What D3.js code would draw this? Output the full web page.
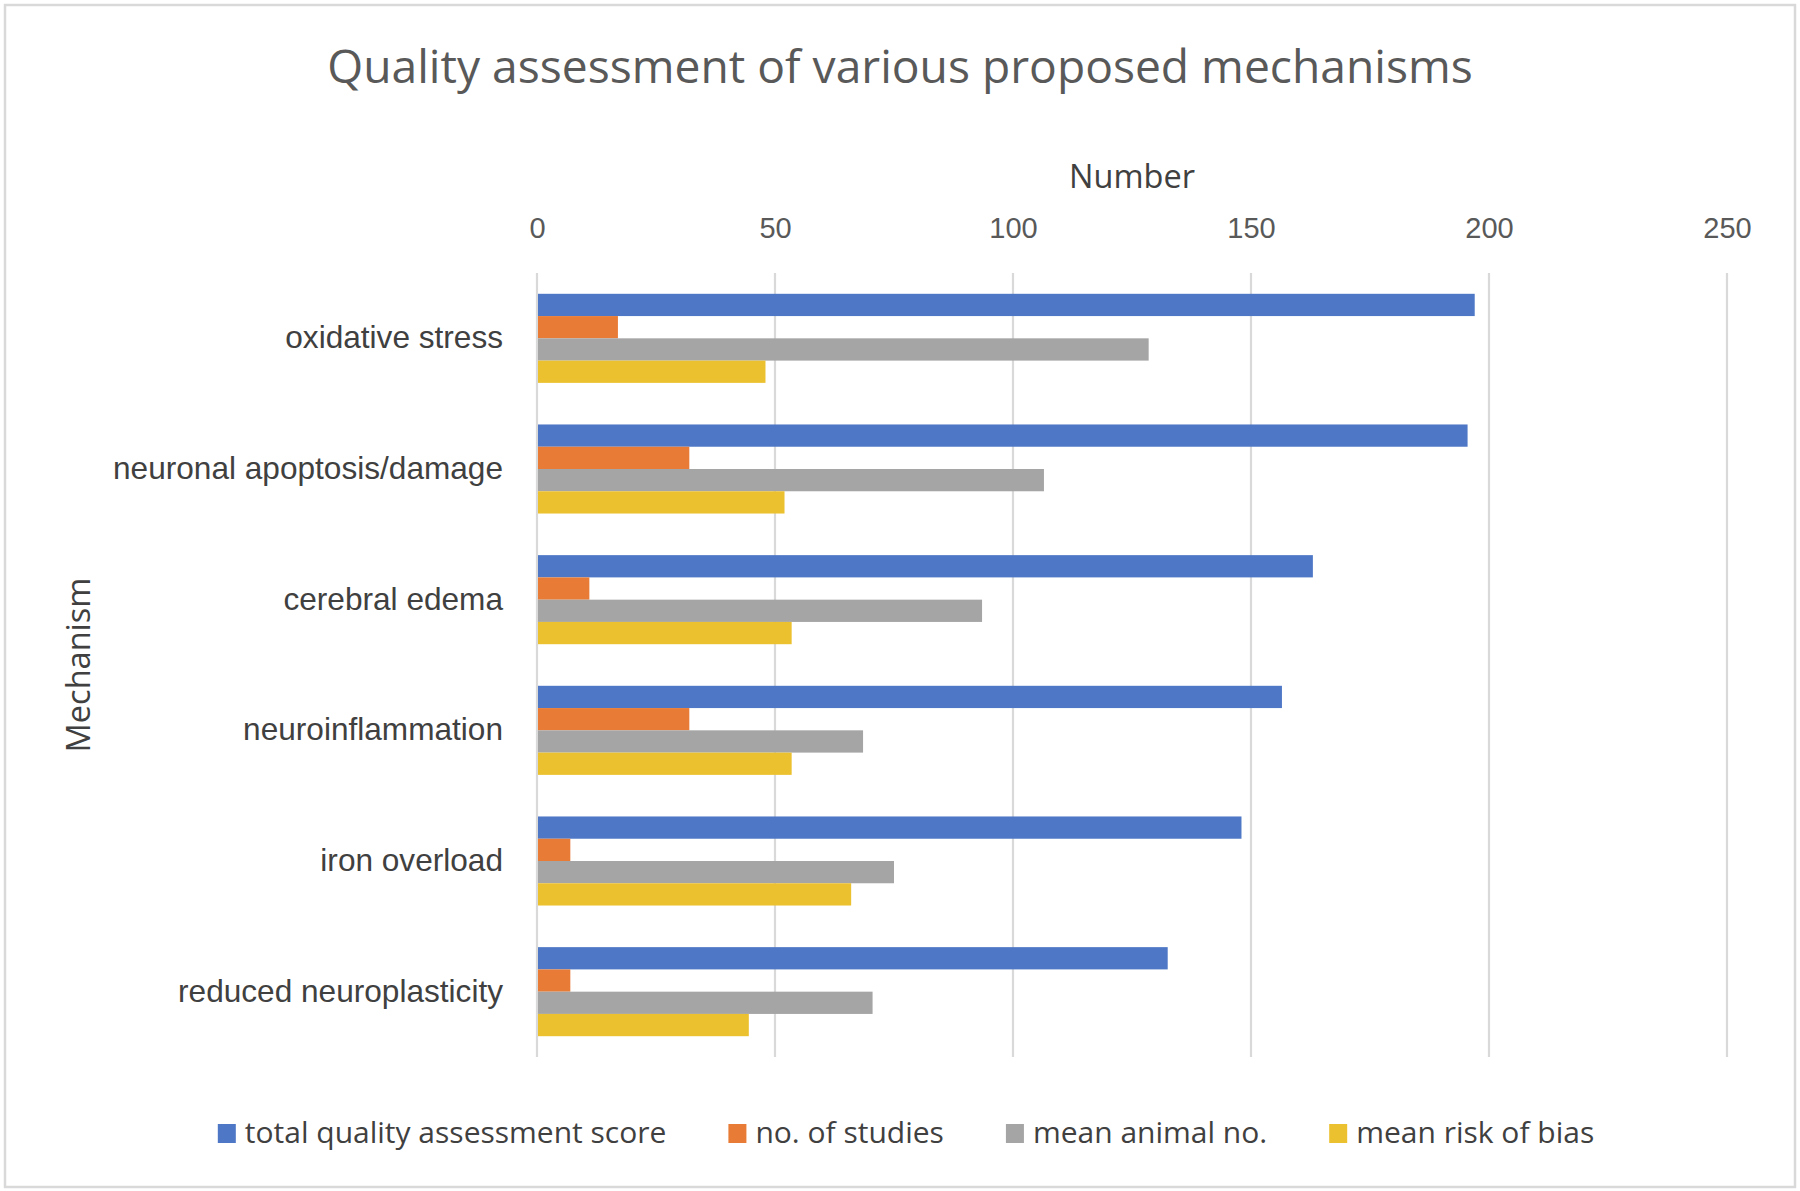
<!DOCTYPE html>
<head>
  <meta charset="utf-8">
  <title>Quality assessment of various proposed mechanisms</title>
  <script src="https://d3js.org/d3.v7.min.js"></script>
  <style>
    body { margin: 0; background: #fff; }
    svg { display: block; font-family: "Open Sans", "Noto Sans", sans-serif; }
  </style>
</head>
<body>
  <div id="chart"></div>

  <script type="text/javascript">

    // Data
    var mechanisms = ['oxidative stress', 'neuronal apoptosis/damage', 'cerebral edema',
      'neuroinflammation', 'iron overload', 'reduced neuroplasticity'];
    var seriesNames = ['total quality assessment score', 'no. of studies',
      'mean animal no.', 'mean risk of bias'];
    var totalScore = [197, 195.5, 163, 156.5, 148, 132.5];
    var noOfStudies = [17, 32, 11, 32, 7, 7];
    var meanAnimalNo = [128.5, 106.5, 93.5, 68.5, 75, 70.5];
    var meanRiskOfBias = [48, 52, 53.5, 53.5, 66, 44.5];
    var xTicks = [0, 50, 100, 150, 200, 250];

    var colors = ['#4e78c6', '#e87b35', '#a5a5a5', '#ecc12f'];
    var seriesValues = [totalScore, noOfStudies, meanAnimalNo, meanRiskOfBias];

    // table for the bars: one row per mechanism and series
    var rows = [];
    mechanisms.forEach(function (m, i) {
      seriesNames.forEach(function (s, j) {
        rows.push({ mechanism: m, series: s, value: seriesValues[j][i], color: colors[j] });
      });
    });

    var width = 1800;
    var height = 1191;
    var plot = { left: 537, right: 1727, top: 273, bottom: 1057 };

    var svg = d3.select('#chart')
      .append('svg')
        .attr('width', width)
        .attr('height', height);

    svg.append('rect')
      .attr('width', width)
      .attr('height', height)
      .attr('fill', '#fff');

    // outer frame of the chart
    svg.append('rect')
      .attr('x', 5)
      .attr('y', 5)
      .attr('width', 1790)
      .attr('height', 1182)
      .attr('fill', 'none')
      .attr('stroke', '#d9d9d9')
      .attr('stroke-width', 2.5);

    var xScale = d3.scaleLinear()
      .domain([0, 250])
      .range([plot.left, plot.right]);

    // one band per mechanism, bars sit in the middle of each band
    var yScale = d3.scaleBand()
      .domain(mechanisms)
      .range([plot.top, plot.bottom]);

    var groupPad = 20.8;
    var ySeries = d3.scaleBand()
      .domain(seriesNames)
      .range([groupPad, yScale.bandwidth() - groupPad]);

    // vertical gridlines
    svg.append('g')
      .selectAll('line')
      .data(xTicks)
      .join('line')
        .attr('x1', function (d) { return xScale(d); })
        .attr('x2', function (d) { return xScale(d); })
        .attr('y1', plot.top)
        .attr('y2', plot.bottom)
        .attr('stroke', '#d9d9d9')
        .attr('stroke-width', 2.2);

    // bars
    svg.append('g')
      .selectAll('rect')
      .data(rows)
      .join('rect')
        .attr('x', xScale(0) + 1)
        .attr('y', function (d) { return yScale(d.mechanism) + ySeries(d.series); })
        .attr('width', function (d) { return xScale(d.value) - xScale(0) - 1; })
        .attr('height', ySeries.bandwidth())
        .attr('fill', function (d) { return d.color; });

    // value axis on top
    var xAxis = d3.axisTop(xScale)
      .tickValues(xTicks)
      .tickSize(0)
      .tickPadding(0);

    var xAxisG = svg.append('g')
      .attr('transform', 'translate(0,238)')
      .call(xAxis);
    xAxisG.select('.domain').remove();
    xAxisG.selectAll('text')
      .attr('font-family', null)
      .attr('font-size', 29)
      .attr('fill', '#595959');

    // category axis on the left
    var yAxis = d3.axisLeft(yScale)
      .tickSize(0)
      .tickPadding(34);

    var yAxisG = svg.append('g')
      .attr('transform', 'translate(' + plot.left + ',0)')
      .call(yAxis);
    yAxisG.select('.domain').remove();
    yAxisG.selectAll('text')
      .attr('font-family', null)
      .attr('font-size', 31.6)
      .attr('fill', '#404040');

    // title and axis titles
    svg.append('text')
      .attr('x', 900)
      .attr('y', 83)
      .attr('text-anchor', 'middle')
      .attr('font-size', 46.2)
      .attr('fill', '#595959')
      .text('Quality assessment of various proposed mechanisms');

    svg.append('text')
      .attr('x', 1132)
      .attr('y', 188)
      .attr('text-anchor', 'middle')
      .attr('font-size', 32.5)
      .attr('fill', '#404040')
      .text('Number');

    svg.append('text')
      .attr('transform', 'translate(90,665) rotate(-90)')
      .attr('text-anchor', 'middle')
      .attr('font-size', 32.5)
      .attr('fill', '#404040')
      .text('Mechanism');

    // legend, laid out from measured text widths and centred
    var legend = svg.append('g');
    var items = legend.selectAll('g')
      .data(seriesNames)
      .join('g');
    items.append('rect')
      .attr('y', 1124)
      .attr('width', 18)
      .attr('height', 19)
      .attr('fill', function (d, i) { return colors[i]; });
    items.append('text')
      .attr('x', 27)
      .attr('y', 1143)
      .attr('font-size', 30)
      .attr('fill', '#404040')
      .text(function (d) { return d; });

    var pos = 0;
    items.each(function () {
      var w = d3.select(this).select('text').node().getComputedTextLength();
      d3.select(this).attr('transform', 'translate(' + pos + ',0)');
      pos += 27 + w + 62;
    });
    var legendWidth = pos - 62;
    legend.attr('transform', 'translate(' + (906 - legendWidth / 2) + ',0)');
  </script>
</body>
